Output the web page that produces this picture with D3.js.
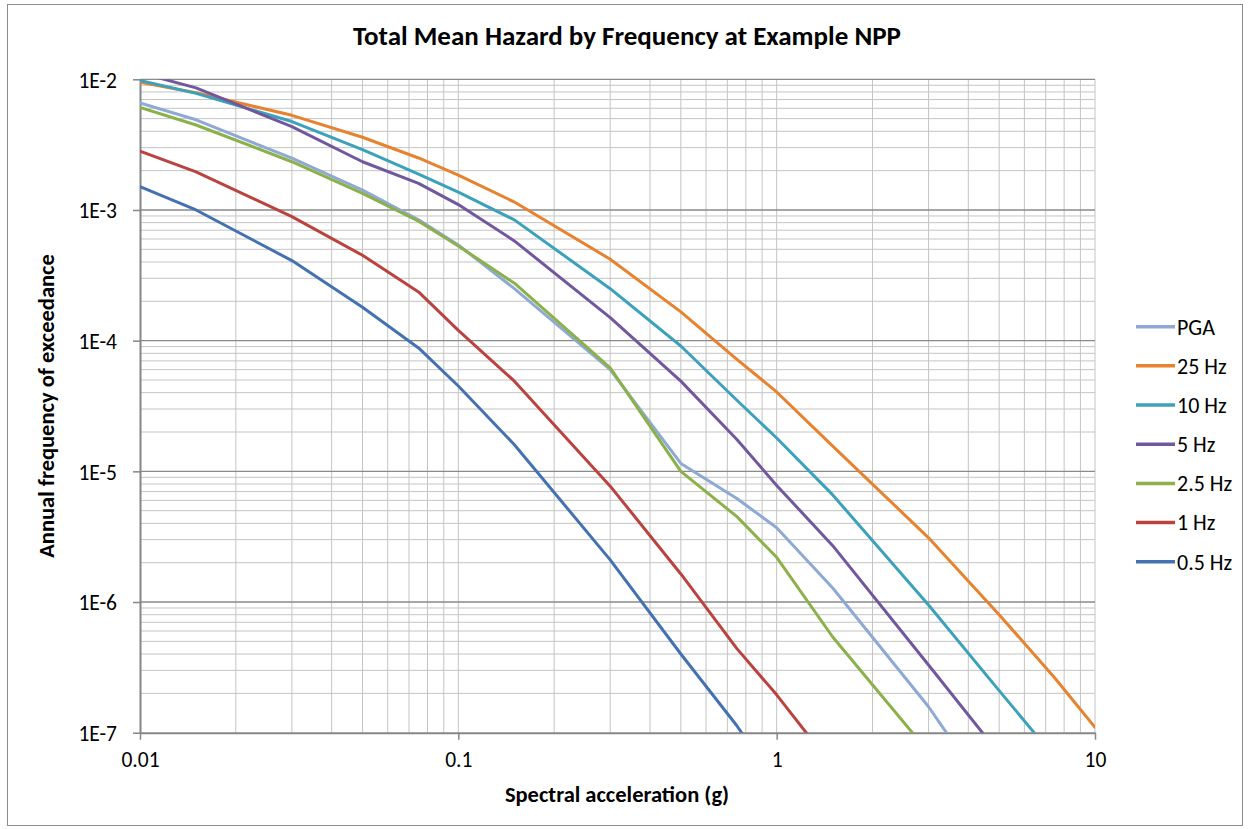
<!DOCTYPE html>
<html>
<head>
<meta charset="utf-8">
<script src="https://cdn.jsdelivr.net/npm/d3@7"></script>
<style>
    body { margin: 0; background: #fff; }
    #hazard-chart text { font-family: Carlito, Lato, "Liberation Sans", sans-serif; fill: #000; }
</style>
</head>
<body>
<div id="hazard-chart"></div>
<script>
// spectral acceleration (g) at which the hazard was computed
let accel = [0.01, 0.015, 0.03, 0.05, 0.075, 0.1, 0.15, 0.3, 0.5, 0.75, 1, 1.5, 3, 5, 7.5, 10];

// annual frequency of exceedance per spectral frequency (null = off the chart)
let pga    = [6.6e-3, 4.9e-3, 2.49e-3, 1.42e-3, 8.4e-4, 5.4e-4, 2.5e-4, 6.0e-5, 1.15e-5, 6.2e-6, 3.7e-6, 1.28e-6, 1.58e-7, 2.6e-8, null, null];
let hz25   = [9.5e-3, 7.9e-3, 5.3e-3, 3.6e-3, 2.5e-3, 1.85e-3, 1.15e-3, 4.2e-4, 1.66e-4, 7.2e-5, 4.05e-5, 1.56e-5, 3.1e-6, 8.0e-7, 2.6e-7, 1.1e-7];
let hz10   = [9.8e-3, 7.8e-3, 4.75e-3, 2.9e-3, 1.88e-3, 1.37e-3, 8.4e-4, 2.5e-4, 9.1e-5, 3.5e-5, 1.8e-5, 6.6e-6, 9.5e-7, 2.1e-7, 6.4e-8, null];
let hz5    = [1.12e-2, 8.6e-3, 4.34e-3, 2.34e-3, 1.6e-3, 1.1e-3, 5.8e-4, 1.5e-4, 4.9e-5, 1.75e-5, 7.8e-6, 2.7e-6, 3.3e-7, 6.9e-8, null, null];
let hz2_5  = [6.1e-3, 4.47e-3, 2.34e-3, 1.34e-3, 8.2e-4, 5.3e-4, 2.75e-4, 6.2e-5, 1.0e-5, 4.5e-6, 2.2e-6, 5.4e-7, 7.1e-8, null, null, null];
let hz1    = [2.82e-3, 1.96e-3, 8.9e-4, 4.5e-4, 2.36e-4, 1.2e-4, 4.9e-5, 7.7e-6, 1.64e-6, 4.4e-7, 1.95e-7, 5.5e-8, null, null, null, null];
let hz0_5  = [1.51e-3, 1.0e-3, 4.1e-4, 1.8e-4, 8.8e-5, 4.5e-5, 1.6e-5, 2.1e-6, 4.0e-7, 1.13e-7, 4.0e-8, null, null, null, null, null];

let seriesNames  = ["PGA", "25 Hz", "10 Hz", "5 Hz", "2.5 Hz", "1 Hz", "0.5 Hz"];
let seriesValues = [pga, hz25, hz10, hz5, hz2_5, hz1, hz0_5];
let seriesColors = ["#8DA9D4", "#E7822F", "#3CA2BB", "#71589E", "#8CB04A", "#BA4340", "#4472B0"];

// axis ticks
let xTickValues = [0.01, 0.1, 1, 10];
let yTickValues = [1e-2, 1e-3, 1e-4, 1e-5, 1e-6, 1e-7];

let chartTitle = "Total Mean Hazard by Frequency at Example NPP";
let xTitle = "Spectral acceleration (g)";
let yTitle = "Annual frequency of exceedance";

/**
 * Constructor for the hazard chart
 */
function HazardChart(){
    let self = this;

    self.init();
};

/**
 * Builds the svg, grid, axes, curves and legend
 */
HazardChart.prototype.init = function(){
    let self = this;
    self.width = 1250;
    self.height = 829;
    self.plot = {left: 140, right: 1095, top: 79.3, bottom: 732.7};

    let div = d3.select("#hazard-chart");
    self.svg = div.append("svg")
        .attr("width", self.width)
        .attr("height", self.height);

    //Outer chart border
    self.svg.append("rect")
        .attr("x", 7.5)
        .attr("y", 4.5)
        .attr("width", 1235)
        .attr("height", 821)
        .attr("fill", "#fff")
        .attr("stroke", "#8c8c8c")
        .attr("stroke-width", 1);

    self.x = d3.scaleLog()
        .domain([0.01, 10])
        .range([self.plot.left, self.plot.right]);
    self.y = d3.scaleLog()
        .domain([1e-7, 1e-2])
        .range([self.plot.bottom, self.plot.top]);

    let grid = self.svg.append("g").attr("class", "grid");

    //Vertical grid lines (every 1..9 of each decade)
    grid.selectAll(".vgrid")
        .data(self.x.ticks().filter(d => d > 0.01 * 1.0001))
        .enter()
        .append("line")
        .attr("class", "vgrid")
        .attr("x1", d => self.x(d))
        .attr("x2", d => self.x(d))
        .attr("y1", self.plot.top)
        .attr("y2", self.plot.bottom)
        .attr("stroke", "#c4c4c4")
        .attr("stroke-width", 1);

    //Horizontal minor grid lines
    let yMinor = self.y.ticks().filter(d => yTickValues.every(t => Math.abs(Math.log10(d) - Math.log10(t)) > 1e-6));
    grid.selectAll(".hgrid")
        .data(yMinor)
        .enter()
        .append("line")
        .attr("class", "hgrid")
        .attr("x1", self.plot.left)
        .attr("x2", self.plot.right)
        .attr("y1", d => self.y(d))
        .attr("y2", d => self.y(d))
        .attr("stroke", "#c4c4c4")
        .attr("stroke-width", 1);

    //Horizontal major grid lines at each decade
    grid.selectAll(".hmajor")
        .data(yTickValues.slice(0, -1))
        .enter()
        .append("line")
        .attr("class", "hmajor")
        .attr("x1", self.plot.left)
        .attr("x2", self.plot.right)
        .attr("y1", d => self.y(d))
        .attr("y2", d => self.y(d))
        .attr("stroke", "#8a8a8a")
        .attr("stroke-width", 1.3);

    //Axes
    let xAxis = d3.axisBottom(self.x)
        .tickValues(xTickValues)
        .tickFormat(d => String(d))
        .tickSizeInner(7)
        .tickSizeOuter(0)
        .tickPadding(12);
    let yAxis = d3.axisLeft(self.y)
        .tickValues(yTickValues)
        .tickFormat(d => "1E" + Math.round(Math.log10(d)))
        .tickSizeInner(7)
        .tickSizeOuter(0)
        .tickPadding(16);

    let gx = self.svg.append("g")
        .attr("transform", "translate(0," + self.plot.bottom + ")")
        .call(xAxis);
    let gy = self.svg.append("g")
        .attr("transform", "translate(" + self.plot.left + ",0)")
        .call(yAxis);

    [gx, gy].forEach(function(g){
        g.select(".domain").attr("stroke", "#868686").attr("stroke-width", 2);
        g.selectAll(".tick line").attr("stroke", "#868686").attr("stroke-width", 1.5);
        g.selectAll(".tick text").attr("font-size", 21.5).attr("fill", "#000");
    });
    gy.selectAll(".tick text").attr("dy", "0.36em");

    //Clip so curves stop at the plot frame
    self.svg.append("clipPath")
        .attr("id", "plot-clip")
        .append("rect")
        .attr("x", self.plot.left)
        .attr("y", self.plot.top)
        .attr("width", self.plot.right - self.plot.left)
        .attr("height", self.plot.bottom - self.plot.top);

    let line = d3.line()
        .defined(d => d.v != null)
        .x(d => self.x(d.a))
        .y(d => self.y(d.v));

    let curves = self.svg.append("g").attr("clip-path", "url(#plot-clip)");
    curves.selectAll(".curve")
        .data(seriesValues)
        .enter()
        .append("path")
        .attr("class", "curve")
        .attr("d", vals => line(vals.map((v, i) => ({a: accel[i], v: v}))))
        .attr("fill", "none")
        .attr("stroke", (d, i) => seriesColors[i])
        .attr("stroke-width", 3)
        .attr("stroke-linejoin", "round")
        .attr("stroke-linecap", "round");

    //Legend
    let legend = self.svg.append("g").attr("class", "legend");
    let items = legend.selectAll(".item")
        .data(seriesNames)
        .enter()
        .append("g")
        .attr("class", "item")
        .attr("transform", (d, i) => "translate(1136," + (326.7 + i * 39.17) + ")");
    items.append("line")
        .attr("x1", 0)
        .attr("x2", 39)
        .attr("stroke", (d, i) => seriesColors[i])
        .attr("stroke-width", 3.5);
    items.append("text")
        .attr("x", 41)
        .attr("dy", "0.36em")
        .attr("font-size", 22)
        .text(d => d);

    //Titles
    self.svg.append("text")
        .attr("x", 627)
        .attr("y", 45)
        .attr("text-anchor", "middle")
        .attr("font-size", 27)
        .attr("font-weight", "bold")
        .text(chartTitle);

    self.svg.append("text")
        .attr("x", 617)
        .attr("y", 802)
        .attr("text-anchor", "middle")
        .attr("font-size", 22.5)
        .attr("font-weight", "bold")
        .text(xTitle);

    self.svg.append("text")
        .attr("transform", "translate(54," + ((self.plot.top + self.plot.bottom) / 2) + ") rotate(-90)")
        .attr("text-anchor", "middle")
        .attr("font-size", 22.5)
        .attr("font-weight", "bold")
        .text(yTitle);
};

new HazardChart();
</script>
</body>
</html>
